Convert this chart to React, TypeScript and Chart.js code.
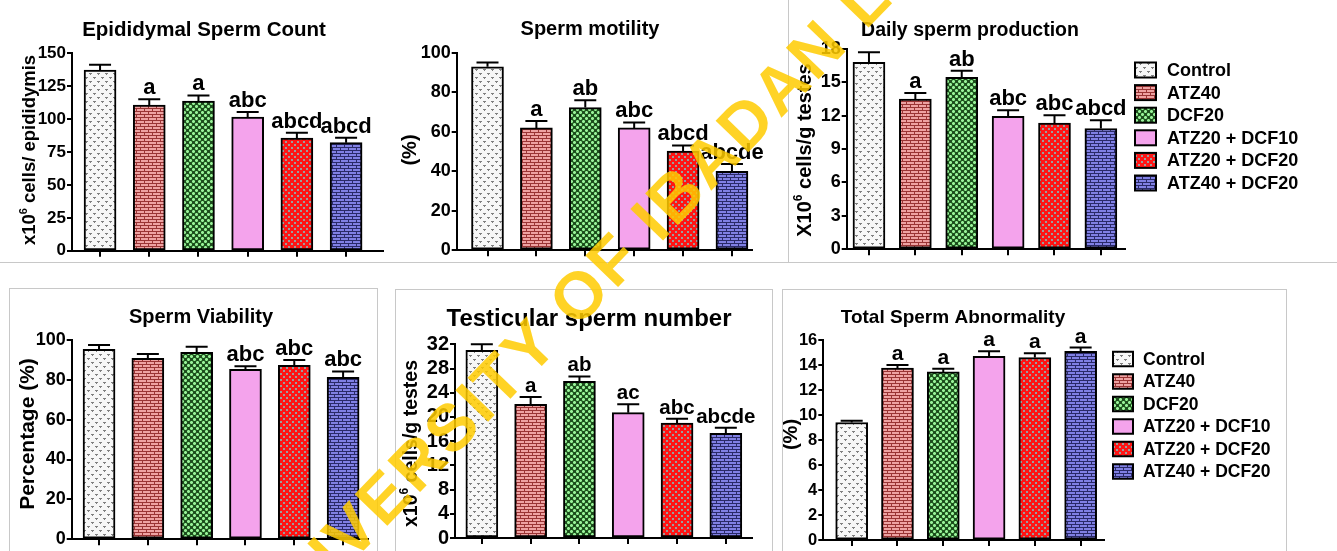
import React, { useEffect, useRef } from 'react';
import { Chart, registerables } from 'chart.js';
Chart.register(...registerables);

const FONT = "'Liberation Sans', Arial, Helvetica, sans-serif";

// ---------- data ----------
const groups = ['Control', 'ATZ40', 'DCF20', 'ATZ20 + DCF10', 'ATZ20 + DCF20', 'ATZ40 + DCF20'];

const epididymalCount = [137, 110.5, 113.5, 101.5, 85.5, 82];
const epididymalErr = [4, 4.5, 4.3, 3.7, 4, 3.8];
const epididymalLetters = ['', 'a', 'a', 'abc', 'abcd', 'abcd'];
const epididymalTicks = [0, 25, 50, 75, 100, 125, 150];

const motility = [93, 62, 72.3, 62, 50.3, 40];
const motilityErr = [2.2, 3.5, 3.7, 2.8, 2.8, 3.7];
const motilityLetters = ['', 'a', 'ab', 'abc', 'abcd', 'abcde'];
const motilityTicks = [0, 20, 40, 60, 80, 100];

const dailyProduction = [16.8, 13.5, 15.45, 11.95, 11.35, 10.85];
const dailyErr = [0.9, 0.55, 0.6, 0.55, 0.7, 0.75];
const dailyLetters = ['', 'a', 'ab', 'abc', 'abc', 'abcd'];
const dailyTicks = [0, 3, 6, 9, 12, 15, 18];

const viability = [95.3, 90.8, 93.8, 85.3, 87.3, 81.2];
const viabilityErr = [2.2, 2.2, 2.8, 1.5, 2.7, 3];
const viabilityLetters = ['', '', '', 'abc', 'abc', 'abc'];
const viabilityTicks = [0, 20, 40, 60, 80, 100];

const testicular = [31, 22.1, 25.9, 20.7, 19, 17.3];
const testicularErr = [1, 1.2, 0.8, 1.4, 0.7, 0.9];
const testicularLetters = ['', 'a', 'ab', 'ac', 'abc', 'abcde'];
const testicularTicks = [0, 4, 8, 12, 16, 20, 24, 28, 32];

const abnormality = [9.4, 13.75, 13.45, 14.7, 14.6, 15.1];
const abnormalityErr = [0.15, 0.25, 0.25, 0.4, 0.35, 0.3];
const abnormalityLetters = ['', 'a', 'a', 'a', 'a', 'a'];
const abnormalityTicks = [0, 2, 4, 6, 8, 10, 12, 14, 16];

const WATERMARK = 'UNIVERSITY OF IBADAN LIBRARY';

// ---------- styles ----------
function tile(w: number, h: number, bg: string, draw: (g: CanvasRenderingContext2D) => void) {
  const c = document.createElement('canvas');
  c.width = w; c.height = h;
  const g = c.getContext('2d')!;
  g.fillStyle = bg; g.fillRect(0, 0, w, h);
  draw(g);
  return c;
}

function makeFills(ctx: CanvasRenderingContext2D): (CanvasPattern | string)[] {
  const control = tile(8, 8, '#f7f7f7', (g) => {
    g.fillStyle = '#808080';
    g.fillRect(1, 1, 3, 1); g.fillRect(2, 2, 1, 1);
    g.fillRect(5, 5, 3, 1); g.fillRect(6, 6, 1, 1);
  });
  const brickRed = tile(8, 6, '#eea2a2', (g) => {
    g.fillStyle = '#9a3434';
    g.fillRect(0, 0, 8, 1); g.fillRect(0, 3, 8, 1);
    g.fillRect(0, 1, 1, 2); g.fillRect(4, 4, 1, 2);
  });
  const cross = tile(6, 6, '#1d4d1d', (g) => {
    g.fillStyle = '#5cb85c';
    [[1, 1], [4, 4]].forEach(([cx, cy]) => {
      g.fillRect(cx - 1, cy - 1, 3, 3);
    });
    g.fillStyle = '#9cf09c';
    [[1, 1], [4, 4]].forEach(([cx, cy]) => {
      g.fillRect(cx - 1, cy, 3, 1); g.fillRect(cx, cy - 1, 1, 3);
    });
  });
  const checker = tile(6, 6, '#ff1414', (g) => {
    g.fillStyle = '#9c9c9c';
    g.fillRect(0, 0, 2, 2); g.fillRect(3, 3, 2, 2);
  });
  const brickBlue = tile(8, 6, '#8080e4', (g) => {
    g.fillStyle = '#2a2a68';
    g.fillRect(0, 0, 8, 1); g.fillRect(0, 3, 8, 1);
    g.fillRect(0, 1, 1, 2); g.fillRect(4, 4, 1, 2);
  });
  const pat = (c: HTMLCanvasElement) => ctx.createPattern(c, 'repeat')!;
  return [pat(control), pat(brickRed), pat(cross), '#f4a3ec', pat(checker), pat(brickBlue)];
}

type Part = { t: string; sup?: boolean };

const panels = [
  {
    title: 'Epididymal Sperm Count',
    yTitle: [{ t: 'x10' }, { t: '6', sup: true }, { t: ' cells/ epididymis' }] as Part[],
    values: epididymalCount, errors: epididymalErr, letters: epididymalLetters, ticks: epididymalTicks,
    box: [0, 0, 388, 262], plot: [72, 383, 53, 254], xRange: [0.43, 6.75],
    titleAt: [204, 36], titleSize: 20.5, yTitleAt: [35, 150], yTitleSize: 18.5,
    tickSize: 17, letterSize: 22, legend: null as any,
  },
  {
    title: 'Sperm motility',
    yTitle: [{ t: '(%)' }] as Part[],
    values: motility, errors: motilityErr, letters: motilityLetters, ticks: motilityTicks,
    box: [390, 0, 396, 262], plot: [456.7, 752, 53, 253], xRange: [0.37, 6.41],
    titleAt: [590, 35], titleSize: 20, yTitleAt: [416, 150], yTitleSize: 20,
    tickSize: 18, letterSize: 22, legend: null as any,
  },
  {
    title: 'Daily sperm production',
    yTitle: [{ t: 'X10' }, { t: '6', sup: true }, { t: ' cells/g testes' }] as Part[],
    values: dailyProduction, errors: dailyErr, letters: dailyLetters, ticks: dailyTicks,
    box: [790, 2, 547, 259], plot: [846.7, 1125, 49, 252.3], xRange: [0.52, 6.52],
    titleAt: [970, 36], titleSize: 19.5, yTitleAt: [811, 150], yTitleSize: 20,
    tickSize: 18, letterSize: 22,
    legend: { x: 1135, y: 70, pitch: 22.6, boxW: 21, boxH: 15, textX: 1167, size: 18 },
  },
  {
    title: 'Sperm Viability',
    yTitle: [{ t: 'Percentage (%)' }] as Part[],
    values: viability, errors: viabilityErr, letters: viabilityLetters, ticks: viabilityTicks,
    box: [10, 289, 366, 262], plot: [71.7, 368, 340, 540], xRange: [0.44, 6.51],
    titleAt: [201, 323], titleSize: 20, yTitleAt: [33.5, 434], yTitleSize: 21,
    tickSize: 18, letterSize: 22, legend: null as any,
  },
  {
    title: 'Testicular sperm number',
    yTitle: [{ t: 'x10' }, { t: '6', sup: true }, { t: ' cells/g testes' }] as Part[],
    values: testicular, errors: testicularErr, letters: testicularLetters, ticks: testicularTicks,
    box: [396, 290, 375, 261], plot: [455, 751.7, 344.3, 545], xRange: [0.45, 6.53],
    titleAt: [589, 326], titleSize: 24, yTitleAt: [417, 443.5], yTitleSize: 19.5,
    tickSize: 20, letterSize: 20.5, legend: null as any,
  },
  {
    title: 'Total Sperm Abnormality',
    yTitle: [{ t: '(%)' }] as Part[],
    values: abnormality, errors: abnormalityErr, letters: abnormalityLetters, ticks: abnormalityTicks,
    box: [783, 290, 502, 261], plot: [823.3, 1104, 340, 540.7], xRange: [0.38, 6.51],
    titleAt: [953, 323], titleSize: 19, yTitleAt: [797, 434.5], yTitleSize: 20,
    tickSize: 16.5, letterSize: 21,
    legend: { x: 1113, y: 359, pitch: 22.5, boxW: 20, boxH: 14.5, textX: 1143, size: 17.5 },
  },
];

type PanelT = typeof panels[number];

function annotPlugin(p: PanelT, fills: (CanvasPattern | string)[]) {
  const [l, t] = p.box;
  return {
    id: 'annot',
    afterDatasetsDraw(chart: any) {
      const ctx: CanvasRenderingContext2D = chart.ctx;
      const meta = chart.getDatasetMeta(0);
      const ys = chart.scales.y;
      ctx.save();
      ctx.strokeStyle = '#000';
      ctx.lineWidth = 2;
      ctx.fillStyle = '#000';
      meta.data.forEach((el: any, i: number) => {
        const x = el.x;
        const top = el.y;
        const ye = ys.getPixelForValue(p.values[i] + p.errors[i]);
        ctx.beginPath();
        ctx.moveTo(x, top); ctx.lineTo(x, ye);
        ctx.moveTo(x - 11, ye); ctx.lineTo(x + 11, ye);
        ctx.stroke();
        if (p.letters[i]) {
          ctx.font = `bold ${p.letterSize}px ${FONT}`;
          ctx.textAlign = 'center';
          ctx.textBaseline = 'alphabetic';
          ctx.fillText(p.letters[i], x, ye - 5);
        }
      });
      ctx.restore();
    },
    afterDraw(chart: any) {
      const ctx: CanvasRenderingContext2D = chart.ctx;
      ctx.save();
      ctx.fillStyle = '#000';
      // title
      ctx.font = `bold ${p.titleSize}px ${FONT}`;
      ctx.textAlign = 'center';
      ctx.textBaseline = 'alphabetic';
      ctx.fillText(p.title, p.titleAt[0] - l, p.titleAt[1] - t);
      // y title (rotated)
      const size = p.yTitleSize;
      const supSize = Math.round(size * 0.62);
      const widths = p.yTitle.map((pt) => {
        ctx.font = `bold ${pt.sup ? supSize : size}px ${FONT}`;
        return ctx.measureText(pt.t).width;
      });
      const total = widths.reduce((a, b) => a + b, 0);
      ctx.translate(p.yTitleAt[0] - l, p.yTitleAt[1] - t);
      ctx.rotate(-Math.PI / 2);
      ctx.textAlign = 'left';
      let cx = -total / 2;
      p.yTitle.forEach((pt, i) => {
        ctx.font = `bold ${pt.sup ? supSize : size}px ${FONT}`;
        ctx.fillText(pt.t, cx, pt.sup ? -size * 0.45 : 0);
        cx += widths[i];
      });
      ctx.setTransform(1, 0, 0, 1, 0, 0);
      // legend
      const lg = p.legend;
      if (lg) {
        groups.forEach((g, i) => {
          const cy = lg.y + i * lg.pitch - t;
          const bx = lg.x - l;
          ctx.fillStyle = fills[i] as any;
          ctx.fillRect(bx, cy - lg.boxH / 2, lg.boxW, lg.boxH);
          ctx.strokeStyle = '#000';
          ctx.lineWidth = 2;
          ctx.strokeRect(bx, cy - lg.boxH / 2, lg.boxW, lg.boxH);
          ctx.fillStyle = '#000';
          ctx.font = `bold ${lg.size}px ${FONT}`;
          ctx.textAlign = 'left';
          ctx.textBaseline = 'middle';
          ctx.fillText(g, lg.textX - l, cy + 1);
        });
      }
      ctx.restore();
    },
  };
}

function ChartPanel({ p }: { p: PanelT }) {
  const ref = useRef<HTMLCanvasElement>(null);
  const [l, t, w, h] = p.box;
  useEffect(() => {
    const canvas = ref.current!;
    const ctx = canvas.getContext('2d')!;
    const fills = makeFills(ctx);
    const [x0, x1, yTop, yBottom] = p.plot;
    const xAxisH = t + h - yBottom;
    const chart = new Chart(ctx, {
      type: 'bar',
      data: {
        labels: groups,
        datasets: [
          {
            label: p.title,
            data: p.values.map((v, i) => ({ x: i + 1, y: v })) as any,
            backgroundColor: fills as any,
            borderColor: '#000',
            borderWidth: 2,
            borderSkipped: false,
            barThickness: 32,
          },
        ],
      },
      options: {
        responsive: false,
        animation: false,
        devicePixelRatio: 1,
        layout: { padding: { left: 0, top: yTop - t, right: l + w - x1, bottom: 0 } },
        plugins: { legend: { display: false }, tooltip: { enabled: false }, title: { display: false } },
        scales: {
          x: {
            type: 'linear',
            min: p.xRange[0],
            max: p.xRange[1],
            offset: false,
            afterBuildTicks: (s: any) => { s.ticks = groups.map((_, i) => ({ value: i + 1 })); },
            afterFit: (s: any) => { s.height = xAxisH; },
            ticks: { display: false },
            grid: { offset: false, drawOnChartArea: false, drawTicks: true, tickLength: 6, color: '#000', lineWidth: 2 },
            border: { display: true, color: '#000', width: 2 },
          } as any,
          y: {
            type: 'linear',
            min: p.ticks[0],
            max: p.ticks[p.ticks.length - 1],
            afterBuildTicks: (s: any) => { s.ticks = p.ticks.map((v) => ({ value: v })); },
            afterFit: (s: any) => { s.width = x0 - l; },
            ticks: { color: '#000', autoSkip: false, padding: 1, font: { family: FONT, size: p.tickSize, weight: 'bold' } },
            grid: { drawOnChartArea: false, drawTicks: true, tickLength: 5, color: '#000', lineWidth: 2 },
            border: { display: true, color: '#000', width: 2 },
          } as any,
        },
      },
      plugins: [annotPlugin(p, fills) as any],
    });
    return () => chart.destroy();
  }, []);
  return (
    <canvas
      ref={ref}
      width={w}
      height={h}
      style={{ position: 'absolute', left: l, top: t, width: w, height: h }}
    />
  );
}

function Watermark() {
  const ref = useRef<HTMLCanvasElement>(null);
  useEffect(() => {
    const c = ref.current!;
    const g = c.getContext('2d')!;
    g.clearRect(0, 0, c.width, c.height);
    g.save();
    g.font = `bold 66px ${FONT}`;
    (g as any).letterSpacing = '3px';
    g.fillStyle = 'rgba(255, 203, 0, 0.85)';
    g.translate(532, 350);
    g.rotate((-46 * Math.PI) / 180);
    const pre = g.measureText('UNIVERSIT').width;
    const yW = g.measureText('Y').width;
    g.textBaseline = 'middle';
    g.textAlign = 'left';
    g.fillText(WATERMARK, -(pre + (yW - 3) / 2), 0);
    g.restore();
  }, []);
  return (
    <canvas
      ref={ref}
      width={1337}
      height={551}
      style={{ position: 'absolute', left: 0, top: 0, width: 1337, height: 551, pointerEvents: 'none' }}
    />
  );
}

const frameColor = '#c8c8c8';

export default function App() {
  return (
    <div
      style={{
        position: 'absolute', left: 0, top: 0, width: 1337, height: 551,
        overflow: 'hidden', background: '#fff', fontFamily: FONT,
      }}
    >
      <div style={{ position: 'absolute', left: 0, top: 262, width: 1337, height: 1, background: frameColor }} />
      <div style={{ position: 'absolute', left: 788, top: 0, width: 1, height: 262, background: frameColor }} />
      <div style={{ position: 'absolute', left: 9, top: 288, width: 367, height: 280, border: `1px solid ${frameColor}` }} />
      <div style={{ position: 'absolute', left: 395, top: 289, width: 376, height: 280, border: `1px solid ${frameColor}` }} />
      <div style={{ position: 'absolute', left: 782, top: 289, width: 503, height: 280, border: `1px solid ${frameColor}` }} />
      {panels.map((p, i) => (
        <ChartPanel key={i} p={p} />
      ))}
      <Watermark />
    </div>
  );
}
